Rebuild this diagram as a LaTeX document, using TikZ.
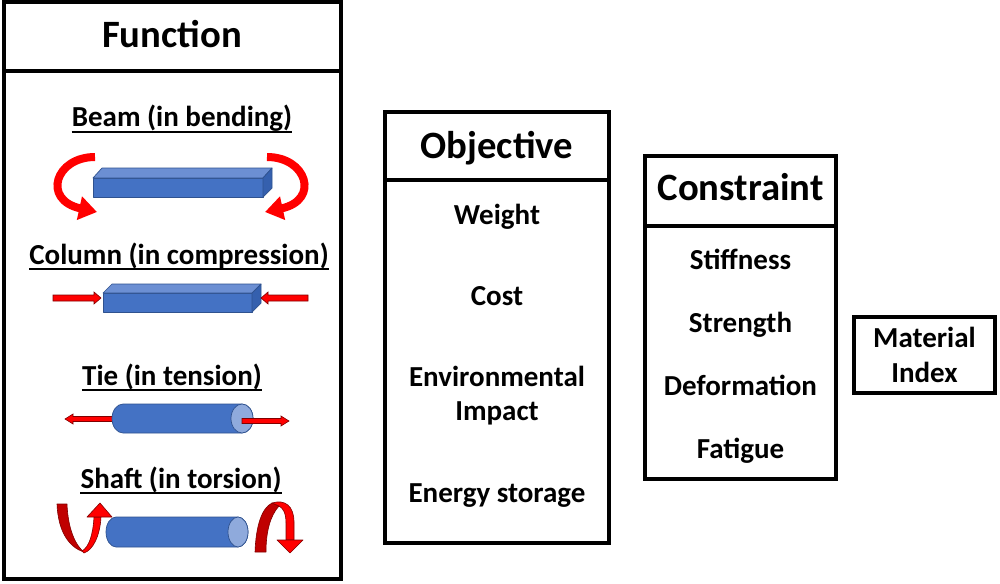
\documentclass[tikz,border=0pt]{standalone}
\usepackage{fontspec}
\setmainfont{Carlito}
\usetikzlibrary{arrows.meta}
\definecolor{bluef}{HTML}{4472C4}
\definecolor{bluetop}{HTML}{6C8FD3}
\definecolor{blueside}{HTML}{3560AE}
\definecolor{blueline}{HTML}{2F528F}
\definecolor{bluecap}{HTML}{8FAADC}
\definecolor{arrred}{HTML}{FF0000}
\definecolor{arrdark}{HTML}{C00000}
\definecolor{arrline}{HTML}{800000}
\begin{document}
\begin{tikzpicture}[x=1pt,y=-1pt,
  box/.style={draw=black, line width=4pt, outer sep=0pt, inner sep=0pt},
  divider/.style={draw=black, line width=4pt},
  hdr/.style={font=\fontsize{38.7}{41}\selectfont\bfseries, anchor=base, inner sep=0pt},
  itm/.style={font=\fontsize{29}{31}\selectfont\bfseries, anchor=base, inner sep=0pt},
  uline/.style={draw=black, line width=2pt},
  solid3d/.style={draw=blueline, line width=0.7pt, line join=round},
  blockarr/.style={fill=arrred, draw=arrline, line width=0.6pt, line join=miter},
  twist/.style={draw=arrline, line width=0.6pt, line join=round},
  bendarr/.style={draw=arrred, line width=8pt, -{Triangle[length=18pt,width=23pt]}}
]
\useasboundingbox (0,0) rectangle (1000,583);
\fill[white] (0,0) rectangle (1000,583);

% ---------- boxes ----------
\node[box, minimum width=337pt, minimum height=577pt] (func) at (172.5,290.5) {};
\draw[divider] (func.west |- 0,71) -- (func.east |- 0,71);
\node[box, minimum width=224pt, minimum height=431pt] (obj) at (497,327.5) {};
\draw[divider] (obj.west |- 0,180) -- (obj.east |- 0,180);
\node[box, minimum width=191pt, minimum height=323pt] (con) at (740.5,317.5) {};
\draw[divider] (con.west |- 0,226) -- (con.east |- 0,226);
\node[box, minimum width=141pt, minimum height=76pt] (mat) at (924.5,355) {};

% ---------- headers ----------
\node[hdr] (hfunc) at (172,48) {Function};
\node[hdr] (hobj) at (497,158) {Objective};
\node[hdr] (hcon) at (740.5,200) {Constraint};

% ---------- objective items ----------
\node[itm] (weight) at (497,224) {Weight};
\node[itm] (cost) at (497,305) {Cost};
\node[itm] (env) at (497,386) {Environmental};
\node[itm] (impact) at (497,420) {Impact};
\node[itm] (energy) at (497,502) {Energy storage};

% ---------- constraint items ----------
\node[itm] (stiff) at (740.5,269) {Stiffness};
\node[itm] (strength) at (740.5,332) {Strength};
\node[itm] (deform) at (740.5,395) {Deformation};
\node[itm] (fatigue) at (740.5,458) {Fatigue};

% ---------- material index ----------
\node[itm] (mat1) at (924.5,347) {Material};
\node[itm] (mat2) at (924.5,382) {Index};

% ---------- function labels ----------
\node[itm] (beamlbl) at (182,127) {Beam (in bending)};
\draw[uline] ([shift={(0,4.5)}]beamlbl.base west) -- ([shift={(0,4.5)}]beamlbl.base east);
\node[itm] (collbl) at (179,264) {Column (in compression)};
\draw[uline] ([shift={(0,4.5)}]collbl.base west) -- ([shift={(0,4.5)}]collbl.base east);
\node[itm] (tielbl) at (172,385) {Tie (in tension)};
\draw[uline] ([shift={(0,4.5)}]tielbl.base west) -- ([shift={(0,4.5)}]tielbl.base east);
\node[itm] (shaftlbl) at (181,488) {Shaft (in torsion)};
\draw[uline] ([shift={(0,4.5)}]shaftlbl.base west) -- ([shift={(0,4.5)}]shaftlbl.base east);

% ---------- beam ----------
\filldraw[solid3d, fill=bluef] (93,178) rectangle (263,197);
\filldraw[solid3d, fill=bluetop] (93,178) -- (102,168) -- (272,168) -- (263,178) -- cycle;
\filldraw[solid3d, fill=blueside] (263,178) -- (272,168) -- (272,188) -- (263,197) -- cycle;
\draw[bendarr] (95,157) .. controls (55,157) and (42,200) .. (97,212);
\draw[bendarr] (267,157) .. controls (307,157) and (320,200) .. (265,212);

% ---------- column ----------
\filldraw[solid3d, fill=bluef] (103,293) rectangle (252,312);
\filldraw[solid3d, fill=bluetop] (103,293) -- (112,284) -- (261,284) -- (252,293) -- cycle;
\filldraw[solid3d, fill=blueside] (252,293) -- (261,284) -- (261,303) -- (252,312) -- cycle;
\filldraw[blockarr] (53,295) -- (94,295) -- (94,292) -- (101,298) -- (94,304) -- (94,301) -- (53,301) -- cycle;
\filldraw[blockarr] (308,295) -- (268,295) -- (268,292) -- (261,298) -- (268,304) -- (268,301) -- (308,301) -- cycle;

% ---------- tie ----------
\filldraw[blockarr] (115,416.5) -- (73,416.5) -- (73,414) -- (65,419) -- (73,424) -- (73,421.5) -- (115,421.5) -- cycle;
\filldraw[solid3d, fill=bluef] (123,404) -- (242,404) arc[start angle=-90, end angle=90, x radius=11, y radius=14.5]
  -- (123,433) arc[start angle=90, end angle=270, x radius=11, y radius=14.5] -- cycle;
\filldraw[solid3d, fill=bluecap] (242,418.5) ellipse [x radius=11, y radius=14.5];
\filldraw[blockarr] (242,418.5) -- (281,418.5) -- (281,416) -- (289,421) -- (281,426) -- (281,423.5) -- (242,423.5) -- cycle;

% ---------- shaft ----------
\filldraw[solid3d, fill=bluef] (116,517) -- (238,517) arc[start angle=-90, end angle=90, x radius=10, y radius=15]
  -- (116,547) arc[start angle=90, end angle=270, x radius=10, y radius=15] -- cycle;
\filldraw[solid3d, fill=bluecap] (238,532) ellipse [x radius=10, y radius=15];

% left torsion arrow
\filldraw[twist, fill=arrdark] (57,504) -- (67,504) .. controls (68,530) and (76,546) .. (84,552)
  .. controls (68,547) and (58,530) .. (57,504) -- cycle;
\filldraw[twist, fill=arrred] (82,551) .. controls (89,547) and (93,535) .. (94,517) -- (101,517)
  .. controls (100,536) and (93,550) .. (84,553) -- cycle;
\filldraw[twist, fill=arrred] (87,517) -- (112,517) -- (100,503) -- cycle;

% right torsion arrow
\filldraw[twist, fill=arrdark] (255,552) .. controls (256,525) and (262,508) .. (272,503) -- (279,506)
  .. controls (270,516) and (266,532) .. (266,552) -- cycle;
\filldraw[twist, fill=arrred] (272,503) .. controls (285,499) and (294,506) .. (294,522) -- (294,540) -- (286,540)
  -- (286,523) .. controls (286,513) and (283,508) .. (279,506) -- cycle;
\filldraw[twist, fill=arrred] (277,540) -- (303,540) -- (290,553) -- cycle;
\end{tikzpicture}
\end{document}
